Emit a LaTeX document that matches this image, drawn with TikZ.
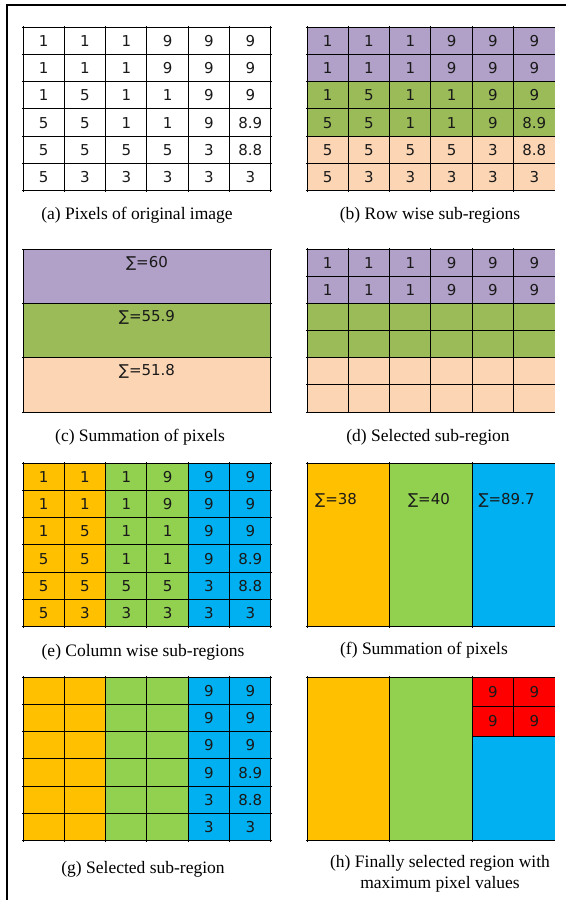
\documentclass[tikz,border=0pt]{standalone}
\usepackage{fontspec}
\setmainfont{Liberation Serif}
\newfontfamily\cellfont{DejaVu Sans}
\definecolor{rowpurple}{HTML}{B1A0C7}
\definecolor{rowgreen}{HTML}{9BBB59}
\definecolor{rowpeach}{HTML}{FCD5B4}
\definecolor{colorange}{HTML}{FFC000}
\definecolor{colgreen}{HTML}{92D050}
\definecolor{colblue}{HTML}{00B0F0}
\definecolor{maxred}{HTML}{FF0000}
\def\cw{41.33}
\def\rh{27.33}
\def\rhb{27.17}
\def\pixrows{{1,1,1,9,9,9},{1,1,1,9,9,9},{1,5,1,1,9,9},{5,5,1,1,9,8.9},{5,5,5,5,3,8.8},{5,3,3,3,3,3}}
\tikzset{
  gridline/.style={line width=1pt, black},
  cell/.style={inner sep=0pt, font=\cellfont\fontsize{15}{18}\selectfont, text=black!90},
  sumlabel/.style={inner sep=0pt, font=\cellfont\fontsize{15}{18}\selectfont, text=black!90},
  subcap/.style={inner sep=0pt, font=\fontsize{17.5}{21}\selectfont, align=center},
}
\begin{document}
\begin{tikzpicture}[x=1pt,y=-1pt]
  \useasboundingbox (0,0) rectangle (566,900);
  \draw[line width=1.8pt] (7,900) -- (7,5) -- (566,5);
  % (a) original pixels
  \begin{scope}[shift={(23,27)}]
    \foreach \i in {0,...,6} \draw[gridline] (\i*\cw,-1) -- (\i*\cw,6*\rh+1);
    \foreach \j in {0,...,6} \draw[gridline] (-1,\j*\rh) -- (6*\cw+1,\j*\rh);
    \foreach \row [count=\r] in \pixrows
      \foreach \v [count=\c] in \row
        \node[cell] (a-\r-\c) at ({(\c-0.5)*\cw},{(\r-0.5)*\rh}) {\v};
  \end{scope}
  % (b) row wise sub-regions
  \begin{scope}[shift={(307,27)}]
    \fill[rowpurple] (0,0) rectangle (6*\cw,2*\rh);
    \fill[rowgreen] (0,2*\rh) rectangle (6*\cw,4*\rh);
    \fill[rowpeach] (0,4*\rh) rectangle (6*\cw,6*\rh);
    \foreach \i in {0,...,5} \draw[gridline] (\i*\cw,-1) -- (\i*\cw,6*\rh+1);
    \foreach \j in {0,...,6} \draw[gridline] (-1,\j*\rh) -- (6*\cw,\j*\rh);
    \foreach \row [count=\r] in \pixrows
      \foreach \v [count=\c] in \row
        \node[cell] (b-\r-\c) at ({(\c-0.5)*\cw},{(\r-0.5)*\rh}) {\v};
  \end{scope}
  % (c) row sums
  \begin{scope}[shift={(23,249)}]
    \fill[rowpurple] (0,0) rectangle (6*\cw,2*\rhb);
    \fill[rowgreen] (0,2*\rhb) rectangle (6*\cw,4*\rhb);
    \fill[rowpeach] (0,4*\rhb) rectangle (6*\cw,6*\rhb);
    \foreach \j in {0,2,4,6} \draw[gridline] (-1,\j*\rhb) -- (6*\cw+1,\j*\rhb);
    \foreach \i in {0,6} \draw[gridline] (\i*\cw,0) -- (\i*\cw,6*\rhb);
    \node[sumlabel] (c-1) at (3*\cw,14) {∑=60};
    \node[sumlabel] (c-2) at (3*\cw,2*\rhb+14) {∑=55.9};
    \node[sumlabel] (c-3) at (3*\cw,4*\rhb+14) {∑=51.8};
  \end{scope}
  % (d) selected row region
  \begin{scope}[shift={(307,249)}]
    \fill[rowpurple] (0,0) rectangle (6*\cw,2*\rhb);
    \fill[rowgreen] (0,2*\rhb) rectangle (6*\cw,4*\rhb);
    \fill[rowpeach] (0,4*\rhb) rectangle (6*\cw,6*\rhb);
    \foreach \i in {0,...,5} \draw[gridline] (\i*\cw,-1) -- (\i*\cw,6*\rhb+1);
    \foreach \j in {0,...,6} \draw[gridline] (-1,\j*\rhb) -- (6*\cw,\j*\rhb);
    \foreach \row [count=\r] in \pixrows
      \foreach \v [count=\c] in \row
        {\ifnum\r<3 \node[cell] (d-\r-\c) at ({(\c-0.5)*\cw},{(\r-0.5)*\rhb}) {\v};\fi}
  \end{scope}
  % (e) column wise sub-regions
  \begin{scope}[shift={(23,463)}]
    \fill[colorange] (0,0) rectangle (2*\cw,6*\rh);
    \fill[colgreen] (2*\cw,0) rectangle (4*\cw,6*\rh);
    \fill[colblue] (4*\cw,0) rectangle (6*\cw,6*\rh);
    \foreach \i in {0,...,6} \draw[gridline] (\i*\cw,-1) -- (\i*\cw,6*\rh+1);
    \foreach \j in {0,...,6} \draw[gridline] (-1,\j*\rh) -- (6*\cw+1,\j*\rh);
    \foreach \row [count=\r] in \pixrows
      \foreach \v [count=\c] in \row
        \node[cell] (e-\r-\c) at ({(\c-0.5)*\cw},{(\r-0.5)*\rh}) {\v};
  \end{scope}
  % (f) column sums
  \begin{scope}[shift={(307,463)}]
    \fill[colorange] (0,0) rectangle (2*\cw,6*\rh);
    \fill[colgreen] (2*\cw,0) rectangle (4*\cw,6*\rh);
    \fill[colblue] (4*\cw,0) rectangle (6*\cw,6*\rh);
    \foreach \i in {0,2,4} \draw[gridline] (\i*\cw,-1) -- (\i*\cw,6*\rh+1);
    \foreach \j in {0,6} \draw[gridline] (-1,\j*\rh) -- (6*\cw,\j*\rh);
    \node[sumlabel, anchor=west] (f-1) at (8,37) {∑=38};
    \node[sumlabel] (f-2) at (3*\cw-2,37) {∑=40};
    \node[sumlabel, anchor=west] (f-3) at (4*\cw+6,37) {∑=89.7};
  \end{scope}
  % (g) selected column region
  \begin{scope}[shift={(23,677)}]
    \fill[colorange] (0,0) rectangle (2*\cw,6*\rh);
    \fill[colgreen] (2*\cw,0) rectangle (4*\cw,6*\rh);
    \fill[colblue] (4*\cw,0) rectangle (6*\cw,6*\rh);
    \foreach \i in {0,...,6} \draw[gridline] (\i*\cw,-1) -- (\i*\cw,6*\rh+1);
    \foreach \j in {0,...,6} \draw[gridline] (-1,\j*\rh) -- (6*\cw+1,\j*\rh);
    \foreach \row [count=\r] in \pixrows
      \foreach \v [count=\c] in \row
        {\ifnum\c>4 \node[cell] (g-\r-\c) at ({(\c-0.5)*\cw},{(\r-0.5)*\rh}) {\v};\fi}
  \end{scope}
  % (h) final region
  \begin{scope}[shift={(307,677)}]
    \fill[colorange] (0,0) rectangle (2*\cw,6*\rh);
    \fill[colgreen] (2*\cw,0) rectangle (4*\cw,6*\rh);
    \fill[colblue] (4*\cw,0) rectangle (6*\cw,6*\rh);
    \fill[maxred] (4*\cw,0) rectangle (6*\cw,59);
    \foreach \i in {0,2,4} \draw[gridline] (\i*\cw,-1) -- (\i*\cw,6*\rh+1);
    \draw[gridline] (5*\cw,0) -- (5*\cw,59);
    \foreach \j in {0,6} \draw[gridline] (-1,\j*\rh) -- (6*\cw,\j*\rh);
    \foreach \j in {29.5,59} \draw[gridline] (4*\cw,\j) -- (6*\cw,\j);
    \foreach \r in {1,2}
      \foreach \c in {5,6}
        \node[cell] (h-\r-\c) at ({(\c-0.5)*\cw},{(\r-0.5)*29.5}) {9};
  \end{scope}
  % captions
  \node[subcap] (capa) at (137,215) {(a) Pixels of original image};
  \node[subcap] (capb) at (430,215) {(b) Row wise sub-regions};
  \node[subcap] (capc) at (140,437) {(c) Summation of pixels};
  \node[subcap] (capd) at (428,437) {(d) Selected sub-region};
  \node[subcap] (cape) at (143,652) {(e) Column wise sub-regions};
  \node[subcap] (capf) at (424,650) {(f) Summation of pixels};
  \node[subcap] (capg) at (143,869) {(g) Selected sub-region};
  \node[subcap] (caph) at (440,874) {(h) Finally selected region with\\maximum pixel values};
\end{tikzpicture}
\end{document}
